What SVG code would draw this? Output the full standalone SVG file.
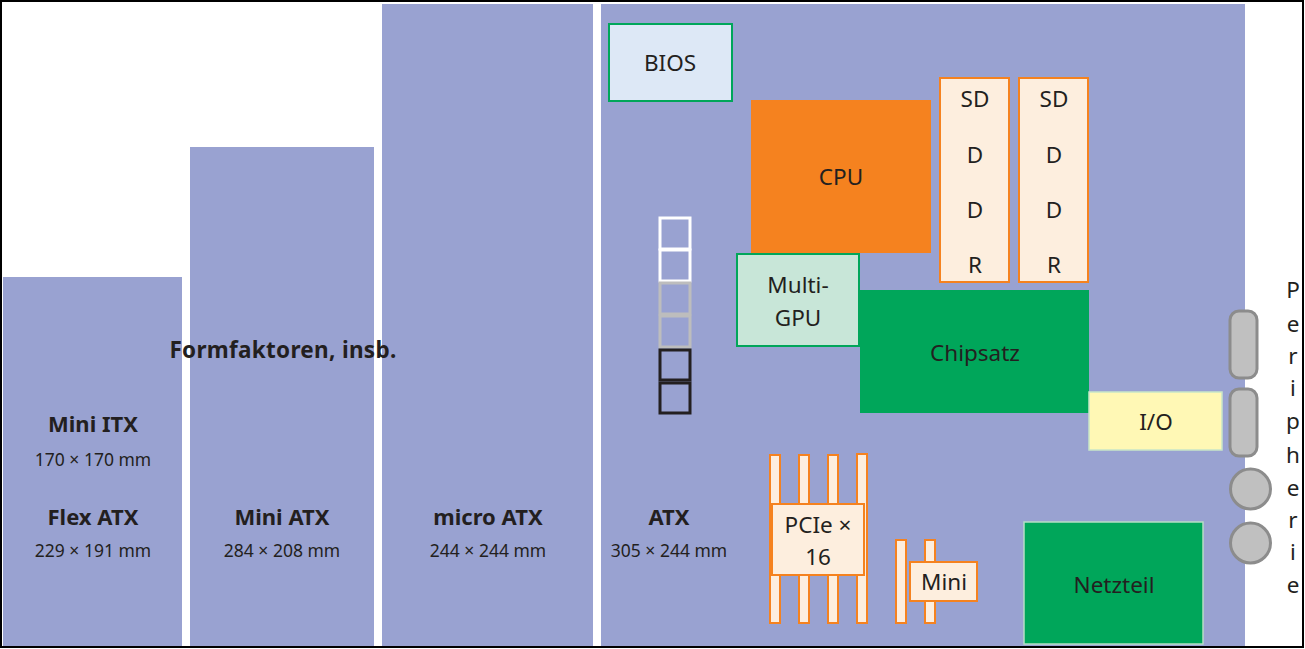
<svg xmlns="http://www.w3.org/2000/svg" width="1305" height="649" viewBox="0 0 1305 649">
<style>
text{font-family:"Noto Sans","Open Sans","Liberation Sans",sans-serif;fill:#231F20;text-anchor:middle}
.b{font-weight:bold;font-size:22px}
.t{font-weight:bold;font-size:22.5px;letter-spacing:0.3px}
.s{font-size:17.5px}
.m{font-size:22.5px}
.board{fill:#99A2D1}
.ram{fill:#FDEEDE;stroke:#F5821F;stroke-width:2}
.slot{fill:#FDEEDE;stroke:#F5821F;stroke-width:2}
.conn{fill:#C0C0C0;stroke:#8C8C8C;stroke-width:3}
.sq{fill:none;stroke-width:3}
</style>
<rect x="0" y="0" width="1305" height="649" fill="#FFFFFF"/>
<g id="miniitx"><rect class="board" x="3" y="277" width="179" height="369"/>
<text class="b" x="93" y="432">Mini ITX</text><text class="s" x="93" y="466">170 × 170 mm</text>
<text class="b" x="93" y="525">Flex ATX</text><text class="s" x="93" y="557">229 × 191 mm</text></g>
<g id="miniatx"><rect class="board" x="190" y="147" width="184" height="499"/>
<text class="b" x="282" y="525">Mini ATX</text><text class="s" x="282" y="557">284 × 208 mm</text></g>
<g id="microatx"><rect class="board" x="382" y="4" width="211" height="642"/>
<text class="b" x="488" y="525">micro ATX</text><text class="s" x="488" y="557">244 × 244 mm</text></g>
<g id="atx"><rect class="board" x="601" y="4" width="644" height="642"/>
<text class="b" x="669" y="525">ATX</text><text class="s" x="669" y="557">305 × 244 mm</text></g>
<g id="title"><text class="t" x="283" y="358">Formfaktoren, insb.</text></g>
<g id="bios"><rect x="609" y="24" width="123" height="77" fill="#DDE8F6" stroke="#00A65A" stroke-width="2"/><text class="m" x="670" y="71">BIOS</text></g>
<g id="cpu"><rect x="751" y="100" width="180" height="153" fill="#F5821F"/><text class="m" x="841" y="185">CPU</text></g>
<g id="sddr1"><rect class="ram" x="940" y="78" width="69" height="204"/>
<text class="m" x="975" y="107">SD</text><text class="m" x="975" y="163">D</text><text class="m" x="975" y="218">D</text><text class="m" x="975" y="273">R</text></g>
<g id="sddr2"><rect class="ram" x="1019" y="78" width="69" height="204"/>
<text class="m" x="1054" y="107">SD</text><text class="m" x="1054" y="163">D</text><text class="m" x="1054" y="218">D</text><text class="m" x="1054" y="273">R</text></g>
<g id="multigpu"><rect x="737" y="254" width="122" height="92" fill="#C8E6D8" stroke="#00A65A" stroke-width="2"/>
<text class="m" x="798" y="293">Multi-</text><text class="m" x="798" y="326">GPU</text></g>
<g id="chipsatz"><rect x="860" y="290" width="229" height="123" fill="#00A65A"/><text class="m" x="975" y="361">Chipsatz</text></g>
<g id="io"><rect x="1089" y="392" width="133" height="58" fill="#FFF8B5" stroke="#C8E6C8" stroke-width="1.5"/><text class="m" x="1156" y="430">I/O</text></g>
<g id="netzteil"><rect x="1024" y="522" width="179" height="122" fill="#00A65A" stroke="#B5DEC5" stroke-width="1.5"/><text class="m" x="1114" y="593">Netzteil</text></g>
<g id="slots">
<rect class="sq" stroke="#FFFFFF" x="660" y="218" width="30" height="31"/>
<rect class="sq" stroke="#FFFFFF" x="660" y="250" width="30" height="31"/>
<rect class="sq" stroke="#BDBDBD" x="660" y="283" width="30" height="31"/>
<rect class="sq" stroke="#BDBDBD" x="660" y="316" width="30" height="31"/>
<rect class="sq" stroke="#231F20" x="660" y="350" width="30" height="30"/>
<rect class="sq" stroke="#231F20" x="660" y="383" width="30" height="30"/>
</g>
<g id="pcie">
<rect class="slot" x="770" y="455" width="10" height="168"/>
<rect class="slot" x="799" y="455" width="10" height="168"/>
<rect class="slot" x="828" y="455" width="10" height="168"/>
<rect class="slot" x="857" y="454" width="10" height="169"/>
<rect class="slot" x="772" y="504" width="92" height="71"/>
<text class="m" x="818" y="533">PCIe ×</text><text class="m" x="818" y="565">16</text>
</g>
<g id="mini">
<rect class="slot" x="896" y="540" width="10" height="83"/>
<rect class="slot" x="925" y="540" width="10" height="83"/>
<rect class="slot" x="910" y="562" width="67" height="39"/>
<text class="m" x="944" y="590">Mini</text>
</g>
<g id="connectors">
<rect class="conn" x="1230" y="311" width="27" height="67" rx="9"/>
<rect class="conn" x="1230" y="389" width="27" height="67" rx="9"/>
<circle class="conn" cx="1250.5" cy="489" r="20"/>
<circle class="conn" cx="1250.5" cy="543" r="20"/>
</g>
<g id="peripherie">
<text class="m" x="1293" y="298">P</text><text class="m" x="1293" y="332">e</text><text class="m" x="1293" y="364">r</text><text class="m" x="1293" y="396">i</text><text class="m" x="1293" y="429">p</text><text class="m" x="1293" y="463">h</text><text class="m" x="1293" y="496">e</text><text class="m" x="1293" y="528">r</text><text class="m" x="1293" y="560">i</text><text class="m" x="1293" y="593">e</text>
</g>
<rect x="1" y="1" width="1302" height="646" fill="none" stroke="#000000" stroke-width="2"/>
</svg>
